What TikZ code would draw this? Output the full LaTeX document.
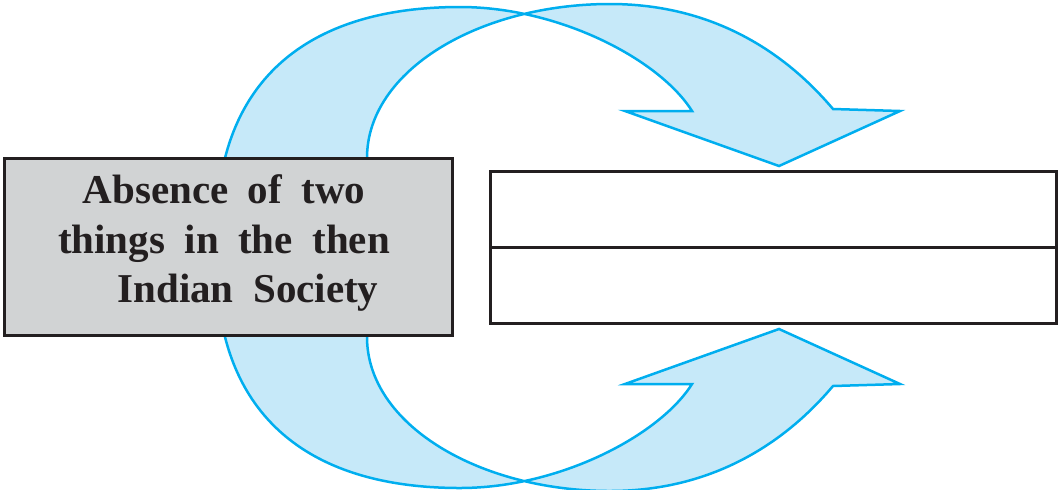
\documentclass[tikz,border=0pt]{standalone}
\usepackage{fontspec}
\usepackage{xcolor}
\usepackage{tikz}
\usetikzlibrary{positioning}
\newfontfamily\boxfont[WordSpace=1.9]{Liberation Serif}
\definecolor{band}{HTML}{00AEEF}
\definecolor{bandlt}{HTML}{C6E9F9}
\definecolor{ink}{HTML}{231F20}
\definecolor{shade}{HTML}{D1D3D4}

\begin{document}
\begin{tikzpicture}[x=0.5pt,y=-0.5pt,
  loop/.style={draw=band,fill=bandlt,line width=1.25pt,line join=miter},
  gbox/.style={draw=ink,line width=1.5pt,fill=shade,inner sep=0pt,outer sep=0pt},
  wbox/.style={draw=ink,line width=1.5pt,fill=white,inner sep=0pt,outer sep=0pt,
    minimum width=283pt,minimum height=38pt}]
  \useasboundingbox (0,0) rectangle (1058,489);
  % the two curved arrows, the lower one mirrored
  \foreach \s/\o in {1/0,-1/495}{
    \begin{scope}[shift={(0,\o)},yscale=\s]
      \draw[loop] (223,172) -- (225,158)
        .. controls (250,60) and (330,7) .. (460,7)
        .. controls (560,7) and (660,60) .. (692,111)
        -- (625,111) -- (779,166) -- (900,111) -- (833,109)
        .. controls (800,70) and (730,4) .. (610,4)
        .. controls (480,4) and (367,70) .. (367,158)
        -- (367,172) -- cycle;
    \end{scope}
  }
  \node[gbox,minimum width=224pt,minimum height=88.5pt] (absence) at (228,246.5) {};
  \node[align=center,text=ink,font=\boxfont\bfseries\fontsize{20.5}{24.75}\selectfont]
    (what) at (224,243) {Absence of two\\things in the then\\\hspace*{24pt}Indian Society};
  \node[wbox] (upper) at (773,209) {};
  \node[wbox,below=0pt of upper] (lower) {};
\end{tikzpicture}
\end{document}
